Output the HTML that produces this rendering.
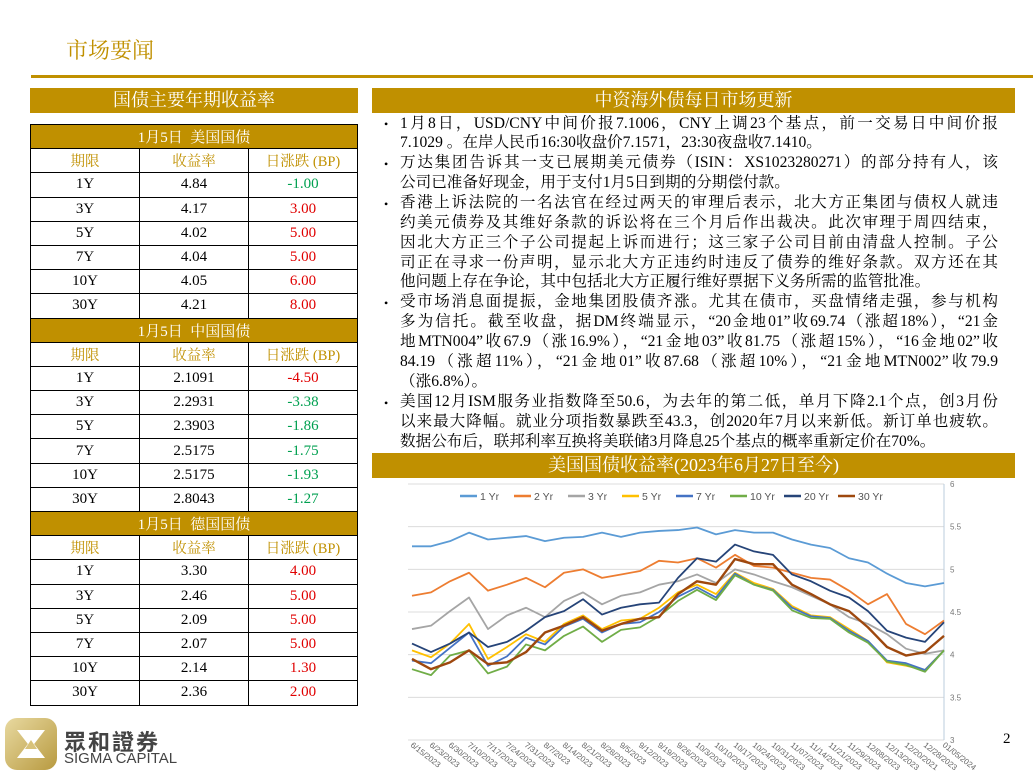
<!DOCTYPE html>
<html><head><meta charset="utf-8">
<style>
*{margin:0;padding:0;box-sizing:border-box}
body{width:1033px;height:773px;position:relative;background:#fff;overflow:hidden;font-family:"Liberation Serif","Noto Serif CJK SC",serif}
.abs{position:absolute}
.gold{background:#c09000;color:#fff}
table{border-collapse:collapse;position:absolute;left:30px;top:124px;width:328px;table-layout:fixed}
td{border:1px solid #000;height:24.2px;text-align:center;font-size:15px;padding:0;width:33.3%}
td.h{background:#c09000;color:#fff;font-size:15px}
td.c{color:#c09000;font-size:14.5px}
.r{color:#e00000}.g{color:#00a050}
.line{position:absolute;left:400px;width:598px;font-size:15.6px;white-space:nowrap;line-height:19px;color:#000}
.j{text-align-last:justify;text-align:justify;white-space:normal;height:19px;overflow:visible}
.b{position:absolute;left:384px;font-size:12px}
</style></head><body>
<div class="abs" style="left:66px;top:34px;font-size:22px;color:#c09000">市场要闻</div>
<div class="abs" style="left:31px;top:75px;width:1002px;height:3px;background:#c09000"></div>
<div class="abs gold" style="left:30px;top:88px;width:328px;height:25px;font-size:18px;text-align:center;line-height:25px">国债主要年期收益率</div>
<table>
<tr><td class="h" colspan="3">1月5日&nbsp; 美国国债</td></tr>
<tr><td class="c">期限</td><td class="c">收益率</td><td class="c">日涨跌 (BP)</td></tr>
<tr><td>1Y</td><td>4.84</td><td class="g">-1.00</td></tr>
<tr><td>3Y</td><td>4.17</td><td class="r">3.00</td></tr>
<tr><td>5Y</td><td>4.02</td><td class="r">5.00</td></tr>
<tr><td>7Y</td><td>4.04</td><td class="r">5.00</td></tr>
<tr><td>10Y</td><td>4.05</td><td class="r">6.00</td></tr>
<tr><td>30Y</td><td>4.21</td><td class="r">8.00</td></tr>
<tr><td class="h" colspan="3">1月5日&nbsp; 中国国债</td></tr>
<tr><td class="c">期限</td><td class="c">收益率</td><td class="c">日涨跌 (BP)</td></tr>
<tr><td>1Y</td><td>2.1091</td><td class="r">-4.50</td></tr>
<tr><td>3Y</td><td>2.2931</td><td class="g">-3.38</td></tr>
<tr><td>5Y</td><td>2.3903</td><td class="g">-1.86</td></tr>
<tr><td>7Y</td><td>2.5175</td><td class="g">-1.75</td></tr>
<tr><td>10Y</td><td>2.5175</td><td class="g">-1.93</td></tr>
<tr><td>30Y</td><td>2.8043</td><td class="g">-1.27</td></tr>
<tr><td class="h" colspan="3">1月5日&nbsp; 德国国债</td></tr>
<tr><td class="c">期限</td><td class="c">收益率</td><td class="c">日涨跌 (BP)</td></tr>
<tr><td>1Y</td><td>3.30</td><td class="r">4.00</td></tr>
<tr><td>3Y</td><td>2.46</td><td class="r">5.00</td></tr>
<tr><td>5Y</td><td>2.09</td><td class="r">5.00</td></tr>
<tr><td>7Y</td><td>2.07</td><td class="r">5.00</td></tr>
<tr><td>10Y</td><td>2.14</td><td class="r">1.30</td></tr>
<tr><td>30Y</td><td>2.36</td><td class="r">2.00</td></tr>
</table>
<div class="abs gold" style="left:372px;top:88px;width:643px;height:25px;font-size:18px;text-align:center;line-height:25px">中资海外债每日市场更新</div>
<div>
<div class="b" style="top:117px">•</div><div class="b" style="top:157px">•</div><div class="b" style="top:197px">•</div><div class="b" style="top:296px">•</div><div class="b" style="top:396px">•</div>
<div class="line j" style="top:114px">1月8日，USD/CNY中间价报7.1006，CNY上调23个基点，前一交易日中间价报</div>
<div class="line" style="top:133px">7.1029 。在岸人民币16:30收盘价7.1571，23:30夜盘收7.1410。</div>
<div class="line j" style="top:153px">万达集团告诉其一支已展期美元债券（ISIN：XS1023280271）的部分持有人，该</div>
<div class="line" style="top:173px">公司已准备好现金，用于支付1月5日到期的分期偿付款。</div>
<div class="line j" style="top:193px">香港上诉法院的一名法官在经过两天的审理后表示，北大方正集团与债权人就违</div>
<div class="line j" style="top:213px">约美元债券及其维好条款的诉讼将在三个月后作出裁决。此次审理于周四结束，</div>
<div class="line j" style="top:233px">因北大方正三个子公司提起上诉而进行；这三家子公司目前由清盘人控制。子公</div>
<div class="line j" style="top:253px">司正在寻求一份声明，显示北大方正违约时违反了债券的维好条款。双方还在其</div>
<div class="line" style="top:272px">他问题上存在争论，其中包括北大方正履行维好票据下义务所需的监管批准。</div>
<div class="line j" style="top:292px">受市场消息面提振，金地集团股债齐涨。尤其在债市，买盘情绪走强，参与机构</div>
<div class="line j" style="top:312px">多为信托。截至收盘，据DM终端显示，“20金地01”收69.74（涨超18%），“21金</div>
<div class="line j" style="top:332px">地MTN004”收67.9（涨16.9%），“21金地03”收81.75（涨超15%），“16金地02”收</div>
<div class="line j" style="top:352px">84.19（涨超11%），“21金地01”收87.68（涨超10%），“21金地MTN002”收79.9</div>
<div class="line" style="top:372px">（涨6.8%）。</div>
<div class="line j" style="top:392px">美国12月ISM服务业指数降至50.6，为去年的第二低，单月下降2.1个点，创3月份</div>
<div class="line j" style="top:412px">以来最大降幅。就业分项指数暴跌至43.3，创2020年7月以来新低。新订单也疲软。</div>
<div class="line" style="top:432px">数据公布后，联邦利率互换将美联储3月降息25个基点的概率重新定价在70%。</div>
</div>
<div class="abs gold" style="left:372px;top:453px;width:643px;height:25px;font-size:18px;text-align:center;line-height:25px">美国国债收益率(2023年6月27日至今)</div>
<svg id="chart" class="abs" style="left:400px;top:478px" width="580" height="295" font-family="Liberation Sans, sans-serif"></svg>
<div class="abs" style="left:5px;top:718px;width:52px;height:52px;border-radius:12px;background:linear-gradient(135deg,#e8d9a0,#b89a40)">
<svg width="52" height="52"><polygon points="12,12 40,12 26,30" fill="#fff"/><polygon points="26,22 12,40 40,40" fill="#fff"/><polygon points="26,22 20,31 32,31" fill="#d8c27a"/></svg></div>
<div class="abs" style="left:64px;top:725px;font-size:22px;font-weight:bold;color:#444;letter-spacing:2px;font-family:'Liberation Sans','Noto Sans CJK TC',sans-serif">眾和證券</div>
<div class="abs" style="left:64px;top:750px;font-size:15px;color:#444;font-family:'Liberation Sans',sans-serif">SIGMA CAPITAL</div>
<div class="abs" style="left:1003px;top:731px;font-size:15px">2</div>
<script>
const dates=["6/15/2023","6/23/2023","6/30/2023","7/10/2023","7/17/2023","7/24/2023","7/31/2023","8/7/2023","8/14/2023","8/21/2023","8/28/2023","9/5/2023","9/12/2023","9/19/2023","9/26/2023","10/3/2023","10/10/2023","10/17/2023","10/24/2023","10/31/2023","11/07/2023","11/14/2023","11/21/2023","11/29/2023","12/08/2023","12/13/2023","12/20/2021","12/28/2023","01/05/2024"];
const yTicks=[3,3.5,4,4.5,5,5.5,6];
const seriesNames=["1 Yr","2 Yr","3 Yr","5 Yr","7 Yr","10 Yr","20 Yr","30 Yr"];
const seriesColors=["#5b9bd5","#ed7d31","#a5a5a5","#ffc000","#4472c4","#70ad47","#264478","#9e480e"];
const y1=[5.27,5.27,5.33,5.43,5.35,5.37,5.39,5.33,5.37,5.38,5.43,5.38,5.43,5.45,5.46,5.49,5.41,5.46,5.43,5.43,5.35,5.29,5.25,5.13,5.08,4.95,4.84,4.8,4.84];
const y2=[4.69,4.73,4.86,4.96,4.75,4.82,4.9,4.79,4.96,5.0,4.9,4.94,4.98,5.1,5.08,5.13,5.02,5.17,5.04,5.02,4.96,4.9,4.88,4.75,4.59,4.71,4.36,4.24,4.4];
const y3=[4.3,4.34,4.51,4.67,4.3,4.46,4.55,4.44,4.63,4.73,4.59,4.69,4.73,4.82,4.86,4.94,4.84,5.0,4.94,4.86,4.79,4.69,4.59,4.44,4.36,4.24,4.07,4.01,4.05];
const y5=[4.05,3.97,4.13,4.36,3.95,4.09,4.24,4.15,4.36,4.46,4.3,4.4,4.42,4.55,4.73,4.82,4.71,4.96,4.84,4.77,4.57,4.46,4.44,4.3,4.16,3.91,3.87,3.82,4.05];
const y7=[3.93,3.9,4.08,4.26,3.87,3.98,4.2,4.12,4.33,4.42,4.26,4.36,4.38,4.5,4.68,4.79,4.67,4.95,4.82,4.76,4.55,4.45,4.43,4.28,4.16,3.93,3.9,3.82,4.05];
const y10=[3.83,3.76,3.99,4.05,3.78,3.86,4.12,4.05,4.22,4.33,4.15,4.29,4.32,4.45,4.63,4.76,4.64,4.93,4.82,4.75,4.52,4.43,4.42,4.26,4.14,3.92,3.88,3.8,4.05];
const y20=[4.13,4.03,4.13,4.26,4.09,4.15,4.28,4.44,4.51,4.65,4.47,4.55,4.59,4.61,4.9,5.13,5.09,5.29,5.21,5.17,4.94,4.86,4.75,4.67,4.51,4.28,4.2,4.15,4.38];
const y30=[3.95,3.83,3.91,4.05,3.89,3.91,4.03,4.26,4.34,4.44,4.28,4.36,4.42,4.44,4.71,4.86,4.82,5.12,5.06,5.06,4.82,4.71,4.59,4.51,4.32,4.09,3.99,4.03,4.22];
const allSeries=[y1,y2,y3,y5,y7,y10,y20,y30];
const NS="http://www.w3.org/2000/svg";
const svg=document.getElementById('chart');
const X0=12,X1=544,Y0=262,Y1=6,VMIN=3,VMAX=6;
function xs(i){return X0+(X1-X0)*i/(dates.length-1);}
function ys(v){return Y0-(Y0-Y1)*(v-VMIN)/(VMAX-VMIN);}
function mk(tag,attrs){const e=document.createElementNS(NS,tag);for(const k in attrs)e.setAttribute(k,attrs[k]);svg.appendChild(e);return e;}
yTicks.forEach(t=>{
 const g=mk('line',{x1:8,x2:X1,y1:ys(t),y2:ys(t),stroke:'#dcdcdc','stroke-width':1});
 
 
 const l=mk('text',{x:X1+6,y:ys(t)+3,'font-size':8,fill:'#777'});l.textContent=t;
 
 
});
const ax=mk('line',{x1:X1,x2:X1,y1:Y1,y2:Y0,stroke:'#bcd','stroke-width':1});


dates.forEach((d,i)=>{
 const t=mk('text',{x:0,y:0,'font-size':8,fill:'#666',transform:`translate(${xs(i)-2},${Y0+6}) rotate(38)`});
 t.textContent=d;
 
 
});
allSeries.forEach((s,k)=>{
 const p=mk('polyline',{points:s.map((v,i)=>xs(i)+','+ys(v)).join(' '),fill:'none',stroke:seriesColors[k],'stroke-width':k==7?2.4:1.8,'stroke-linejoin':'round'});
 
 
});
seriesNames.forEach((n,k)=>{
 const lx=60+k*54;
 const l=mk('line',{x1:lx,x2:lx+17,y1:18,y2:18,stroke:seriesColors[k],'stroke-width':2.5});
 
 
 const t=mk('text',{x:lx+20,y:22,'font-size':10.5,fill:'#555'});t.textContent=n;
 
 
});
</script>
</body></html>
